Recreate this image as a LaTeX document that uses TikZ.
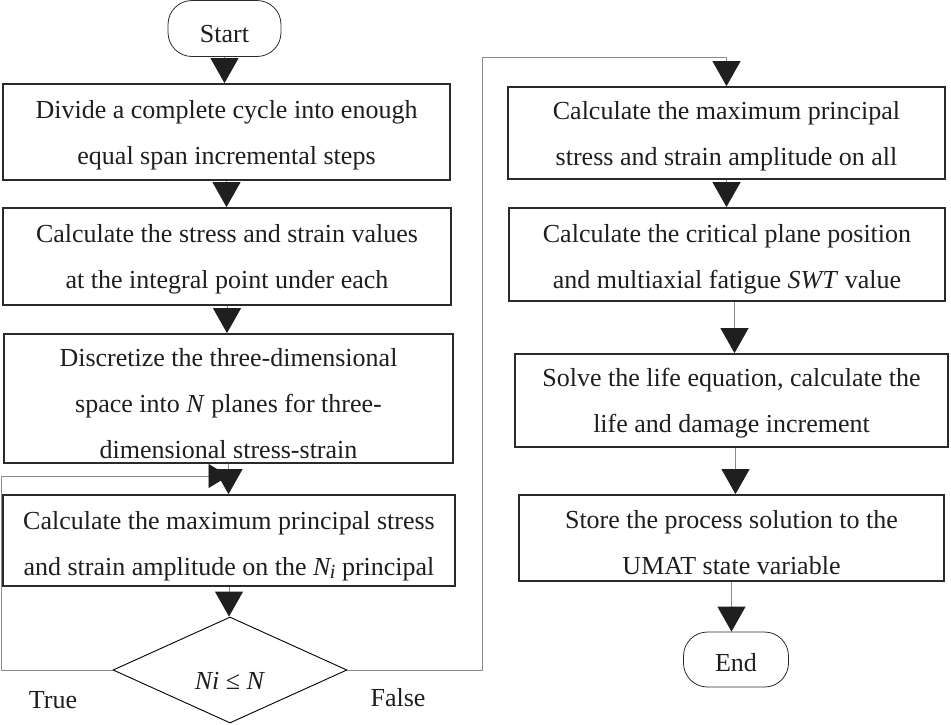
\documentclass[tikz,border=0pt]{standalone}
\usepackage{fontspec}
\setmainfont{Liberation Serif}
\usetikzlibrary{arrows.meta,shapes.geometric,calc}
\definecolor{txt}{HTML}{1E1E1E}
\definecolor{edge}{HTML}{2A2A2A}
\definecolor{conn}{HTML}{8C8C8C}
\newcommand{\topstrut}[1]{\rule{0pt}{#1}}
\tikzset{
  procbox/.style={draw=edge, line width=1.8pt, rectangle, align=center, inner sep=0pt,
    font=\fontsize{26}{46}\selectfont, text=txt, text depth=0pt},
  termbox/.style={draw=edge, line width=0.8pt, rectangle, rounded corners=24pt, align=center,
    inner sep=0pt, font=\fontsize{26}{30}\selectfont, text=txt},
  decbox/.style={draw=black, line width=0.9pt, diamond, aspect=2.2, inner sep=0pt,
    font=\fontsize{26}{30}\selectfont, text=txt},
  lbl/.style={font=\fontsize{26}{30}\selectfont, text=txt, inner sep=0pt},
  arr/.style={draw=conn, line width=0.9pt,
    -{Triangle[width=28pt,length=25pt,color=black!88,fill=black!88]}},
  arrsmall/.style={draw=conn, line width=0.9pt,
    -{Triangle[width=24pt,length=20pt,color=black!88,fill=black!88]}}
}
\begin{document}
\begin{tikzpicture}[x=1pt,y=-1pt]
\useasboundingbox (0,0) rectangle (951,724);
% left column
\node[termbox, minimum width=113pt, minimum height=56pt] (start) at (224.5,28.5)
  {\raisebox{-14pt}[0pt][0pt]{Start}};
\node[procbox, minimum width=447pt, minimum height=96pt] (b1) at (226.5,132)
  {Divide a complete cycle into enough\\equal span incremental steps};
\node[procbox, minimum width=448pt, minimum height=97pt] (b2) at (227,256.5)
  {Calculate the stress and strain values\\at the integral point under each};
\node[procbox, minimum width=449pt, minimum height=129pt] (b3) at (228.5,398.5)
  {\topstrut{27pt}Discretize the three-dimensional\\space into \textit{N} planes for three-\\dimensional stress-strain};
\node[procbox, minimum width=452pt, minimum height=91pt] (b4) at (229,540.5)
  {\topstrut{24pt}Calculate the maximum principal stress\\and strain amplitude on the \textit{N\kern-0.5pt\raisebox{-3pt}{\fontsize{20}{20}\selectfont i}} principal};
\node[decbox, minimum width=234pt, minimum height=106pt] (dia) at (230,670)
  {\raisebox{-19pt}[0pt][0pt]{\textit{Ni} ≤ \textit{N}}};
\node[lbl] (true) at (53,700) {True};
\node[lbl] (false) at (398,698) {False};
% right column
\node[procbox, minimum width=437pt, minimum height=92pt] (r1) at (726.5,133)
  {Calculate the maximum principal\\stress and strain amplitude on all};
\node[procbox, minimum width=436pt, minimum height=93pt] (r2) at (727,254.5)
  {\topstrut{21pt}Calculate the critical plane position\\and multiaxial fatigue \textit{SWT} value};
\node[procbox, minimum width=433pt, minimum height=93pt] (r3) at (731.5,400.5)
  {Solve the life equation, calculate the\\life and damage increment};
\node[procbox, minimum width=425pt, minimum height=86pt] (r4) at (731.5,538)
  {\topstrut{27pt}Store the process solution to the\\UMAT state variable};
\node[termbox, minimum width=105pt, minimum height=55pt] (end) at (736,659.5)
  {\raisebox{-12pt}[0pt][0pt]{End}};
% connectors left
\draw[arr] (start.south) -- (start.south |- b1.north);
\draw[arr] (b1.south) -- (b1.south |- b2.north);
\draw[arr] (b2.south) -- (b2.south |- b3.north);
\draw[arr] (b3.south) -- (b3.south |- b4.north);
\draw[arr] (b4.south) -- (b4.south |- dia.north);
% loop back (True)
\coordinate (loopin) at ($(b3.south)!0.4!(b3.south |- b4.north)$);
\draw[arrsmall] (dia.west) -- ++(-111,0) |- (loopin);
% False branch
\coordinate (falsetop) at ($(r1.north)+(0,-29)$);
\draw[arr] (dia.east) -- ++(135,0) |- (falsetop) -- (r1.north);
% connectors right
\draw[arr] (r1.south) -- (r1.south |- r2.north);
\draw[arr] ($(r2.south)+(7.5,0)$) -- ($(r2.south |- r3.north)+(7.5,0)$);
\draw[arr] ($(r3.south)+(4,0)$) -- ($(r3.south |- r4.north)+(4,0)$);
\draw[arr] (r4.south) -- (r4.south |- end.north);
\end{tikzpicture}
\end{document}
